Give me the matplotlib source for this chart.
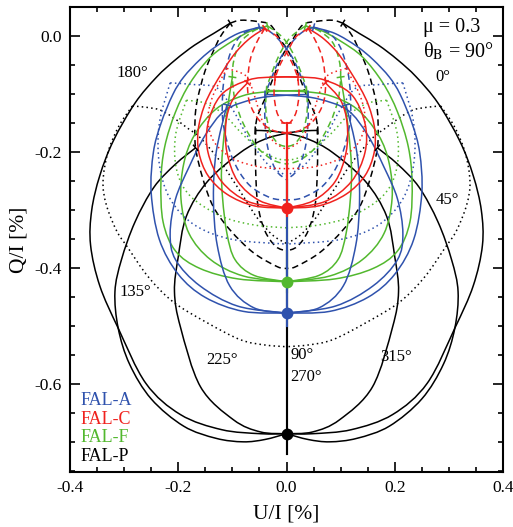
import numpy as np
import matplotlib.pyplot as plt
from matplotlib.path import Path
from matplotlib.patches import PathPatch

plt.rcParams['font.family'] = ['Liberation Serif', 'DejaVu Serif']
plt.rcParams['mathtext.fontset'] = 'stix'
plt.rcParams['axes.unicode_minus'] = False

# ----------------------------------------------------------------------
# Hanle diagram values (left half, mirrored in U)
# ----------------------------------------------------------------------

MODELS = ["FAL-P", "FAL-F", "FAL-A", "FAL-C"]          # drawing order
LEGEND_ORDER = ["FAL-A", "FAL-C", "FAL-F", "FAL-P"]
COLORS = {"FAL-A": "#2f52ad", "FAL-C": "#f0221e", "FAL-F": "#52b82e", "FAL-P": "black"}

ZERO_FIELD_Q = {"FAL-P": -0.685, "FAL-F": -0.423, "FAL-A": -0.477, "FAL-C": -0.296}

# FAL-P (black)
P_OUTER_U = [0, -0.048, -0.12, -0.196, -0.26, -0.311, -0.345, -0.362, -0.36, -0.345, -0.32, -0.28, -0.24, -0.205, -0.17, -0.135, -0.104]
P_OUTER_Q = [-0.685, -0.685, -0.678, -0.652, -0.598, -0.503, -0.43, -0.36, -0.3, -0.24, -0.18, -0.115, -0.07, -0.04, -0.015, 0.005, 0.023]
P_MID_U = [0, -0.04, -0.08, -0.13, -0.19, -0.25, -0.29, -0.311, -0.317, -0.305, -0.28, -0.245, -0.205, -0.168]
P_MID_Q = [-0.685, -0.695, -0.699, -0.693, -0.672, -0.625, -0.565, -0.503, -0.44, -0.385, -0.32, -0.26, -0.22, -0.192]
P_INNER_U = [0, -0.048, -0.098, -0.159, -0.196, -0.207, -0.2, -0.185, -0.146, -0.085, -0.04, 0.0, 0.03, 0.058]
P_INNER_Q = [-0.685, -0.682, -0.661, -0.604, -0.501, -0.44, -0.38, -0.31, -0.25, -0.2, -0.177, -0.167, -0.163, -0.162]
P_DASH_OUT_U = [-0.104, -0.122, -0.137, -0.15, -0.159, -0.166, -0.169, -0.168, -0.154, -0.135, -0.104, -0.061, -0.017, 0]
P_DASH_OUT_Q = [0.023, 0.0, -0.029, -0.058, -0.087, -0.115, -0.144, -0.192, -0.247, -0.294, -0.334, -0.373, -0.397, -0.40]
P_DASH_IN_U = [0.104, 0.085, 0.055, 0.03, 0.011, -0.003, -0.017, -0.035, -0.054, -0.057, -0.057, -0.053, -0.04, -0.02, 0]
P_DASH_IN_Q = [0.023, 0.028, 0.026, 0.02, -0.006, -0.025, -0.053, -0.097, -0.139, -0.17, -0.23, -0.29, -0.335, -0.362, -0.37]
P_DOT_OUT_U = [-0.285, -0.31, -0.33, -0.339, -0.333, -0.314, -0.294, -0.255, -0.209, -0.146, -0.085, -0.04, 0]
P_DOT_OUT_Q = [-0.12, -0.155, -0.2, -0.25, -0.29, -0.335, -0.363, -0.415, -0.458, -0.494, -0.523, -0.532, -0.535]
P_DOT_IN_U = [-0.285, -0.26, -0.233, -0.209, -0.183, -0.159, -0.122, -0.085, -0.054, -0.025, 0]
P_DOT_IN_Q = [-0.12, -0.122, -0.127, -0.14, -0.158, -0.175, -0.216, -0.268, -0.313, -0.343, -0.357]
P_VERT_Q = [-0.72, -0.37]

# FAL-A (blue)
A_OUTER_U = [0, -0.08, -0.15, -0.2, -0.235, -0.25, -0.246, -0.232, -0.21, -0.19, -0.16, -0.13, -0.09, -0.05]
A_OUTER_Q = [-0.477, -0.474, -0.45, -0.41, -0.35, -0.27, -0.2, -0.15, -0.1, -0.07, -0.04, -0.017, 0.005, 0.016]
A_MID_U = [0, -0.06, -0.105, -0.128, -0.135, -0.13, -0.11]
A_MID_Q = [-0.477, -0.468, -0.43, -0.36, -0.28, -0.2, -0.118]
A_INNER_U = [0, -0.09, -0.16, -0.205, -0.215, -0.205, -0.18, -0.15, -0.113, -0.06, -0.013, 0.04]
A_INNER_Q = [-0.477, -0.465, -0.43, -0.385, -0.34, -0.28, -0.225, -0.17, -0.127, -0.108, -0.102, -0.10]
A_DASH_OUT_U = [-0.05, -0.08, -0.1, -0.113, -0.118, -0.117, -0.1, -0.07, -0.03, 0]
A_DASH_OUT_Q = [0.016, 0.005, -0.02, -0.06, -0.1, -0.15, -0.21, -0.255, -0.278, -0.282]
A_DASH_IN_U = [0.05, 0.03, 0.01, -0.01, -0.025, -0.038, -0.04, -0.035, -0.02, 0]
A_DASH_IN_Q = [0.016, 0.008, -0.01, -0.035, -0.065, -0.1, -0.14, -0.19, -0.23, -0.247]
A_DOT_OUT_U = [-0.215, -0.235, -0.235, -0.215, -0.17, -0.1, 0]
A_DOT_OUT_Q = [-0.08, -0.15, -0.22, -0.28, -0.325, -0.35, -0.358]
A_DOT_IN_U = [-0.215, -0.17, -0.128, -0.1, -0.07, -0.035, 0]
A_DOT_IN_Q = [-0.08, -0.083, -0.089, -0.125, -0.175, -0.22, -0.24]
A_VERT_Q = [-0.50, -0.247]

# FAL-F (green)
F_OUTER_U = [0, -0.09, -0.16, -0.205, -0.228, -0.232, -0.225, -0.205, -0.178, -0.14, -0.1, -0.065, -0.035]
F_OUTER_Q = [-0.423, -0.418, -0.4, -0.37, -0.32, -0.25, -0.19, -0.13, -0.08, -0.035, -0.008, 0.01, 0.018]
F_MID_U = [0, -0.06, -0.095, -0.11, -0.118, -0.12, -0.113, -0.1]
F_MID_Q = [-0.423, -0.412, -0.385, -0.34, -0.28, -0.225, -0.15, -0.07]
F_INNER_U = [0, -0.08, -0.14, -0.18, -0.195, -0.19, -0.17, -0.13, -0.08, -0.03, 0.037]
F_INNER_Q = [-0.423, -0.413, -0.385, -0.34, -0.28, -0.22, -0.17, -0.125, -0.102, -0.095, -0.093]
F_DASH_OUT_U = [-0.035, -0.06, -0.085, -0.097, -0.1, -0.095, -0.08, -0.055, -0.025, 0]
F_DASH_OUT_Q = [0.018, 0.01, -0.01, -0.04, -0.07, -0.11, -0.15, -0.19, -0.213, -0.22]
F_DASH_IN_U = [0.035, 0.015, 0.0, -0.015, -0.03, -0.037, -0.038, -0.03, -0.015, 0]
F_DASH_IN_Q = [0.018, 0.005, -0.01, -0.035, -0.07, -0.093, -0.13, -0.165, -0.185, -0.19]
F_DOT_OUT_U = [-0.185, -0.205, -0.203, -0.178, -0.12, -0.06, 0]
F_DOT_OUT_Q = [-0.11, -0.17, -0.23, -0.275, -0.31, -0.325, -0.33]
F_DOT_IN_U = [-0.185, -0.15, -0.115, -0.085, -0.05, -0.02, 0]
F_DOT_IN_Q = [-0.11, -0.115, -0.135, -0.165, -0.195, -0.21, -0.213]
F_VERT_Q = [-0.44, -0.19]

# FAL-C (red)
C_OUTER_U = [0, -0.06, -0.11, -0.145, -0.162, -0.163, -0.152, -0.135, -0.1, -0.07, -0.04]
C_OUTER_Q = [-0.296, -0.292, -0.272, -0.24, -0.2, -0.16, -0.12, -0.087, -0.035, -0.005, 0.014]
C_MID_U = [0, -0.05, -0.09, -0.11, -0.112, -0.1, -0.072]
C_MID_Q = [-0.296, -0.283, -0.25, -0.2, -0.15, -0.11, -0.08]
C_INNER_U = [0, -0.07, -0.12, -0.145, -0.145, -0.12, -0.07, -0.024, 0.022]
C_INNER_Q = [-0.296, -0.285, -0.25, -0.2, -0.15, -0.1, -0.075, -0.07, -0.07]
C_DASH_OUT_U = [-0.04, -0.055, -0.067, -0.072, -0.068, -0.05, -0.025, 0]
C_DASH_OUT_Q = [0.014, -0.01, -0.04, -0.08, -0.115, -0.145, -0.162, -0.166]
C_DASH_IN_U = [0.04, 0.018, 0.005, -0.01, -0.02, -0.023, -0.018, -0.008, 0]
C_DASH_IN_Q = [0.014, 0.0, -0.02, -0.045, -0.07, -0.1, -0.13, -0.147, -0.15]
C_DOT_OUT_U = [-0.11, -0.135, -0.145, -0.135, -0.1, -0.05, 0]
C_DOT_OUT_Q = [-0.055, -0.1, -0.14, -0.18, -0.21, -0.225, -0.228]
C_DOT_IN_U = [-0.11, -0.075, -0.06, -0.045, -0.025, 0]
C_DOT_IN_Q = [-0.055, -0.068, -0.1, -0.145, -0.18, -0.195]
C_VERT_Q = [-0.31, -0.15]
C_VERT_TICKS = [-0.15, -0.166]

AZIMUTH_TEXT = ["180°", "0°", "45°", "135°", "225°", "315°", "90°", "270°"]
AZIMUTH_U = [-0.285, 0.288, 0.298, -0.28, -0.12, 0.203, 0.007, 0.007]
AZIMUTH_Q = [-0.063, -0.07, -0.282, -0.44, -0.558, -0.552, -0.55, -0.588]

CURVES = {
    "FAL-P": dict(outer=(P_OUTER_U, P_OUTER_Q), mid=(P_MID_U, P_MID_Q), inner=(P_INNER_U, P_INNER_Q),
                  dash_out=(P_DASH_OUT_U, P_DASH_OUT_Q), dash_in=(P_DASH_IN_U, P_DASH_IN_Q),
                  dot_out=(P_DOT_OUT_U, P_DOT_OUT_Q), dot_in=(P_DOT_IN_U, P_DOT_IN_Q),
                  vert=P_VERT_Q, ticks=[]),
    "FAL-A": dict(outer=(A_OUTER_U, A_OUTER_Q), mid=(A_MID_U, A_MID_Q), inner=(A_INNER_U, A_INNER_Q),
                  dash_out=(A_DASH_OUT_U, A_DASH_OUT_Q), dash_in=(A_DASH_IN_U, A_DASH_IN_Q),
                  dot_out=(A_DOT_OUT_U, A_DOT_OUT_Q), dot_in=(A_DOT_IN_U, A_DOT_IN_Q),
                  vert=A_VERT_Q, ticks=[]),
    "FAL-F": dict(outer=(F_OUTER_U, F_OUTER_Q), mid=(F_MID_U, F_MID_Q), inner=(F_INNER_U, F_INNER_Q),
                  dash_out=(F_DASH_OUT_U, F_DASH_OUT_Q), dash_in=(F_DASH_IN_U, F_DASH_IN_Q),
                  dot_out=(F_DOT_OUT_U, F_DOT_OUT_Q), dot_in=(F_DOT_IN_U, F_DOT_IN_Q),
                  vert=F_VERT_Q, ticks=[]),
    "FAL-C": dict(outer=(C_OUTER_U, C_OUTER_Q), mid=(C_MID_U, C_MID_Q), inner=(C_INNER_U, C_INNER_Q),
                  dash_out=(C_DASH_OUT_U, C_DASH_OUT_Q), dash_in=(C_DASH_IN_U, C_DASH_IN_Q),
                  dot_out=(C_DOT_OUT_U, C_DOT_OUT_Q), dot_in=(C_DOT_IN_U, C_DOT_IN_Q),
                  vert=C_VERT_Q, ticks=C_VERT_TICKS),
}

LW = 1.1
DASHED = (0, (4.2, 2.6))
DOTTED = (0, (1.0, 2.1))


def smooth_path(u, q):
    """Bezier path through the read points (Catmull-Rom tangents)."""
    pts = np.column_stack([u, q]).astype(float)
    ext = np.vstack([pts[0], pts, pts[-1]])
    verts = [pts[0]]
    codes = [Path.MOVETO]
    for i in range(len(pts) - 1):
        p0, p1, p2, p3 = ext[i], ext[i + 1], ext[i + 2], ext[i + 3]
        verts += [p1 + (p2 - p0) / 6.0, p2 - (p3 - p1) / 6.0, p2]
        codes += [Path.CURVE4] * 3
    return Path(verts, codes)


def draw_curve(ax, u, q, color, ls="-"):
    ax.add_patch(PathPatch(smooth_path(u, q), fill=False, edgecolor=color, lw=LW,
                           linestyle=ls, capstyle="butt", joinstyle="round"))


def end_tick(ax, u, q, color, half=4.0):
    """Short stroke perpendicular to the curve at its last point."""
    p1 = ax.transData.transform((u[-2], q[-2]))
    p2 = ax.transData.transform((u[-1], q[-1]))
    d = p2 - p1
    n = np.array([-d[1], d[0]]) / np.hypot(d[0], d[1]) * half
    inv = ax.transData.inverted()
    a = inv.transform(p2 - n)
    b = inv.transform(p2 + n)
    ax.plot([a[0], b[0]], [a[1], b[1]], color=color, lw=LW, solid_capstyle="butt")


fig = plt.figure(figsize=(5.13, 5.27), dpi=100)
ax = fig.add_axes([0.1365, 0.1044, 0.844, 0.8814])
ax.set_xlim(-0.4, 0.4)
ax.set_ylim(-0.751, 0.05)

for model in MODELS:
    c = COLORS[model]
    cv = CURVES[model]
    for sign in (1, -1):
        for key in ("outer", "mid", "inner"):
            u, q = cv[key]
            u = sign * np.asarray(u)
            draw_curve(ax, u, q, c)
            end_tick(ax, u, q, c)
        for key in ("dash_out", "dash_in"):
            u, q = cv[key]
            draw_curve(ax, sign * np.asarray(u), q, c, DASHED)
        for key in ("dot_out", "dot_in"):
            u, q = cv[key]
            draw_curve(ax, sign * np.asarray(u), q, c, DOTTED)
    ax.plot([0, 0], cv["vert"], color=c, lw=LW * 1.4)
    for tq in cv["ticks"]:
        ax.plot([-0.0075, 0.0075], [tq, tq], color=c, lw=LW)

for model in MODELS:
    ax.plot(0, ZERO_FIELD_Q[model], "o", color=COLORS[model], ms=8.5, mec="none")

for txt, u, q in zip(AZIMUTH_TEXT, AZIMUTH_U, AZIMUTH_Q):
    ha = "left" if txt in ("90°", "270°") else "center"
    ax.text(u, q, txt, fontsize=12, ha=ha, va="center")

ax.text(0.252, 0.016, "μ = 0.3", fontsize=14.5, ha="left", va="center")
ax.text(0.252, -0.026, r"θ$_{\rm B}$ = 90°", fontsize=14.5, ha="left", va="center")

for i, model in enumerate(LEGEND_ORDER):
    ax.text(-0.381, -0.628 - 0.032 * i, model, color=COLORS[model], fontsize=13,
            ha="left", va="center")

ax.set_xticks([-0.4, -0.2, 0.0, 0.2, 0.4])
ax.set_xticklabels(["-0.4", "-0.2", "0.0", "0.2", "0.4"])
ax.set_yticks([0.0, -0.2, -0.4, -0.6])
ax.set_yticklabels(["0.0", "-0.2", "-0.4", "-0.6"])
ax.set_xticks(np.arange(-0.4, 0.401, 0.05), minor=True)
ax.set_yticks(np.arange(-0.75, 0.051, 0.05), minor=True)
ax.tick_params(which="both", direction="in", top=True, right=True, width=1.2, labelsize=12.5)
ax.tick_params(which="major", length=7, pad=6)
ax.tick_params(which="minor", length=3.5)
for s in ax.spines.values():
    s.set_linewidth(1.5)

ax.set_xlabel("U/I [%]", fontsize=15.5, labelpad=6)
ax.set_ylabel("Q/I [%]", fontsize=15.5, labelpad=4)

fig.savefig("out.png", dpi=100)
